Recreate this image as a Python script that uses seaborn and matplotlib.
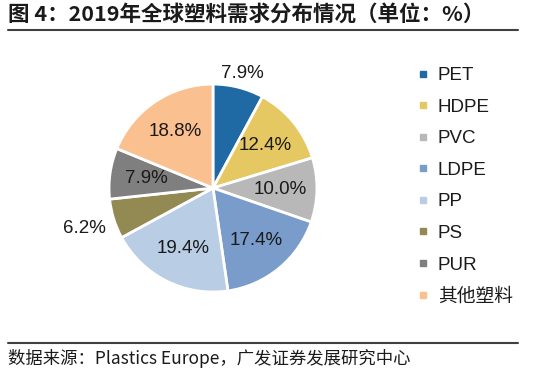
import numpy as np
import matplotlib
matplotlib.use("Agg")
import matplotlib.pyplot as plt
from matplotlib.lines import Line2D
import seaborn as sns

# data
categories = ["PET", "HDPE", "PVC", "LDPE", "PP", "PS", "PUR", "其他塑料"]
shares = [7.9, 12.4, 10.0, 17.4, 19.4, 6.2, 7.9, 18.8]
slice_colors = ["#1F6AA5", "#E6C862", "#B8B8B8", "#7A9CCB",
                "#B9CDE5", "#938953", "#7F7F7F", "#FAC090"]
title_text = "图 4：2019年全球塑料需求分布情况（单位：%）"
source_text = "数据来源：Plastics Europe，广发证券发展研究中心"
outside_labels = {"PET": 1.14, "PS": 1.30}

sns.set_theme(style="white")
plt.rcParams["font.family"] = ["Liberation Sans", "Noto Sans CJK SC", "DejaVu Sans"]

palette = sns.color_palette(slice_colors)

fig = plt.figure(figsize=(5.4, 3.72), dpi=100)

# pie
ax = fig.add_axes([0.2019, 0.215, 0.385, 0.559])
wedges, texts, autotexts = ax.pie(
    shares,
    colors=palette,
    startangle=90,
    counterclock=False,
    radius=1.0,
    autopct="%.1f%%",
    pctdistance=0.65,
    wedgeprops=dict(edgecolor="white", linewidth=2),
    textprops=dict(fontsize=13.5, color="#1a1a1a"),
)
for cat, t in zip(categories, autotexts):
    if cat in outside_labels:
        x, y = t.get_position()
        r = np.hypot(x, y)
        k = outside_labels[cat] / r
        t.set_position((x * k, y * k))
ax.set_xlim(-1.0, 1.0)
ax.set_ylim(-1.0, 1.0)
ax.set_aspect("equal")
ax.axis("off")

# legend
handles = [Line2D([0], [0], marker="s", linestyle="none", markersize=5,
                  markerfacecolor=c, markeredgecolor=c) for c in palette]
leg = fig.legend(handles, categories, loc="upper left",
                 bbox_to_anchor=(0.755, 0.845), frameon=False,
                 fontsize=13.5, handlelength=0.6, handletextpad=0.5,
                 labelspacing=0.77, borderpad=0)
for t in leg.get_texts():
    t.set_color("#1a1a1a")

# header and footer
fig.text(0.015, 0.962, title_text, fontsize=15.5, fontweight="bold",
         color="#1a1a1a", ha="left", va="center",
         family=["Noto Sans CJK SC", "DejaVu Sans"])
fig.add_artist(Line2D([0.015, 0.96], [0.92, 0.92], color="#404040",
                      linewidth=1.5, transform=fig.transFigure))
fig.add_artist(Line2D([0.015, 0.96], [0.078, 0.078], color="#404040",
                      linewidth=1.5, transform=fig.transFigure))
fig.text(0.015, 0.037, source_text, fontsize=12.5, color="#1a1a1a",
         ha="left", va="center",
         family=["Noto Sans CJK SC", "DejaVu Sans"])

fig.savefig("out.png", dpi=100)
plt.close(fig)
